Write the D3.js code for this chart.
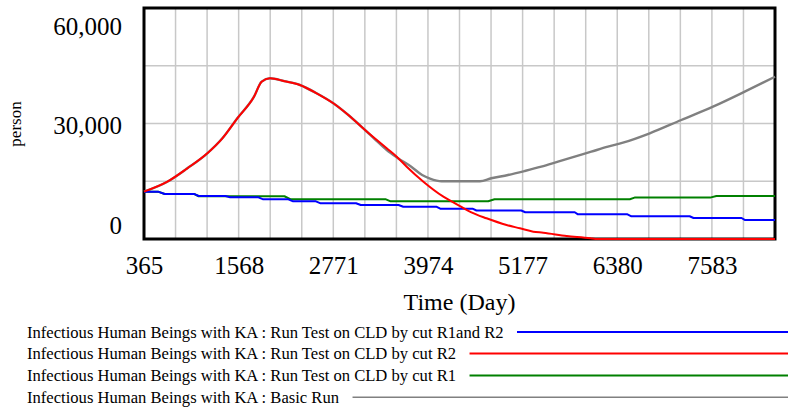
<!DOCTYPE html>
<html>
<head>
<meta charset="utf-8">
<script src="https://cdn.jsdelivr.net/npm/d3@7"></script>
<style>
  body { margin: 0; background: #fff; }
  svg { display: block; }
  svg text { font-family: "Liberation Serif", "Tinos", "Nimbus Roman", "Times", "DejaVu Serif", serif; }
</style>
</head>
<body>
<div id="chart"></div>
<script>
// axis ticks
const timeTicks = [365, 1568, 2771, 3974, 5177, 6380, 7583];
const valueTicks = [0, 30000, 60000];

// legend labels
const seriesNames = [
  "Infectious Human Beings with KA : Run Test on CLD by cut R1and R2",
  "Infectious Human Beings with KA : Run Test on CLD by cut R2",
  "Infectious Human Beings with KA : Run Test on CLD by cut R1",
  "Infectious Human Beings with KA : Basic Run"
];
const seriesColors = ["#0000ff", "#ff0000", "#008000", "#808080"];

// cut R1 and R2 (blue)
const blueTime = [365, 543, 628, 1000, 1060, 1400, 1460, 1820, 1880, 2200, 2260, 2550, 2610, 3060, 3120, 3600, 3660, 4080, 4130, 4540, 4590, 5160, 5210, 5840, 5880, 6510, 6560, 7300, 7350, 7960, 8000, 8385];
const blueValue = [12300, 12300, 11700, 11700, 11170, 11170, 10830, 10830, 10310, 10310, 9790, 9790, 9270, 9270, 8830, 8830, 8390, 8390, 7870, 7870, 7400, 7400, 6950, 6950, 6415, 6415, 5900, 5900, 5450, 5450, 4950, 4950];

// cut R2 (red)
const redTime = [365, 662, 916, 1170, 1361, 1551, 1763, 1860, 1966, 2150, 2347, 2559, 2771, 2962, 3174, 3450, 3577, 3704, 3916, 4170, 4381, 4519, 4719, 4973, 5143, 5312, 5440, 5737, 6040, 6100, 8385];
const redValue = [12300, 14880, 18360, 22260, 26150, 31350, 36960, 40860, 41740, 41000, 40000, 37840, 35250, 32200, 28310, 23560, 21380, 18780, 14880, 10990, 8570, 7000, 5375, 3640, 2780, 1900, 1640, 780, 200, 0, 0];

// cut R1 (green)
const greenTime = [365, 543, 628, 1000, 1060, 2150, 2230, 3440, 3500, 4740, 4820, 6540, 6600, 7560, 7640, 8385];
const greenValue = [12300, 12300, 11700, 11700, 11100, 11100, 10310, 10310, 9790, 9790, 10310, 10310, 10750, 10750, 11170, 11170];

// basic run (gray)
const grayTime = [365, 662, 916, 1170, 1361, 1551, 1763, 1860, 1966, 2150, 2347, 2559, 2771, 2962, 3174, 3300, 3450, 3593, 3762, 3900, 4000, 4147, 4635, 4779, 4991, 5204, 5415, 5627, 5839, 6050, 6262, 6453, 6793, 7194, 7597, 8000, 8385];
const grayValue = [12300, 14880, 18360, 22260, 26150, 31350, 36960, 40860, 41740, 41000, 40000, 37840, 35250, 32200, 28310, 25900, 23100, 21000, 18780, 16620, 15700, 15000, 15000, 15770, 16620, 17660, 18780, 20080, 21380, 22675, 23975, 25010, 27450, 30910, 34360, 38260, 42155];

function makeSeries(times, values) {
  return times.map((t, i) => ({ t: t, v: values[i] }));
}

function drawChart() {
  const W = 790, H = 411;
  const plot = { left: 144, right: 775, top: 8, bottom: 239 };

  const svg = d3.select("#chart").append("svg")
    .attr("width", W)
    .attr("height", H);

  const x = d3.scaleLinear().domain([365, 8385]).range([plot.left, plot.right]);
  const y = d3.scaleLinear().domain([0, 60000]).range([plot.bottom, plot.top]);

  // grid: 20 time divisions, 4 value divisions
  const xGrid = d3.range(1, 20).map(i => 365 + i * 401);
  const yGrid = [15000, 30000, 45000];

  svg.append("g").selectAll("line")
    .data(xGrid)
    .enter().append("line")
    .attr("x1", d => x(d)).attr("x2", d => x(d))
    .attr("y1", plot.top).attr("y2", plot.bottom)
    .attr("stroke", "#c8c8c8")
    .attr("stroke-width", 1.5);

  svg.append("g").selectAll("line")
    .data(yGrid)
    .enter().append("line")
    .attr("x1", plot.left).attr("x2", plot.right)
    .attr("y1", d => y(d)).attr("y2", d => y(d))
    .attr("stroke", "#c8c8c8")
    .attr("stroke-width", 1.5);

  // frame
  svg.append("rect")
    .attr("x", plot.left).attr("y", plot.top)
    .attr("width", plot.right - plot.left)
    .attr("height", plot.bottom - plot.top)
    .attr("fill", "none")
    .attr("stroke", "#000")
    .attr("stroke-width", 3);

  // lines
  const straight = d3.line().x(d => x(d.t)).y(d => y(d.v));
  const smooth = d3.line().x(d => x(d.t)).y(d => y(d.v)).curve(d3.curveMonotoneX);
  const series = [
    { data: makeSeries(grayTime, grayValue), color: seriesColors[3], w: 2.4, gen: smooth },
    { data: makeSeries(greenTime, greenValue), color: seriesColors[2], w: 2, gen: straight },
    { data: makeSeries(blueTime, blueValue), color: seriesColors[0], w: 2, gen: straight },
    { data: makeSeries(redTime, redValue), color: seriesColors[1], w: 2, gen: smooth }
  ];
  svg.append("g").selectAll("path")
    .data(series)
    .enter().append("path")
    .attr("d", d => d.gen(d.data))
    .attr("fill", "none")
    .attr("stroke", d => d.color)
    .attr("stroke-width", d => d.w)
    .attr("stroke-linejoin", "round");

  // x axis labels
  const xAxis = svg.append("g")
    .attr("transform", `translate(0,${plot.bottom})`)
    .call(d3.axisBottom(x).tickValues(timeTicks).tickFormat(d3.format("d")).tickSize(0).tickPadding(17));
  xAxis.attr("font-family", null);
  xAxis.select(".domain").remove();
  xAxis.selectAll("text")
    .attr("font-size", 25)
    .attr("fill", "#000");

  // y axis labels (Vensim pulls the end labels inside the frame)
  const yAxis = svg.append("g")
    .attr("transform", `translate(122,0)`)
    .call(d3.axisLeft(y).tickValues(valueTicks).tickFormat(d3.format(",")).tickSize(0).tickPadding(0));
  yAxis.attr("font-family", null);
  yAxis.select(".domain").remove();
  yAxis.selectAll("text")
    .attr("font-size", 25)
    .attr("fill", "#000")
    .attr("y", d => d === 60000 ? 18.5 : (d === 0 ? -14 : 1.5));

  // axis titles
  svg.append("text")
    .attr("x", (plot.left + plot.right) / 2)
    .attr("y", 310)
    .attr("text-anchor", "middle")
    .attr("font-size", 24)
    .text("Time (Day)");

  svg.append("text")
    .attr("transform", "translate(20.5,124) rotate(-90)")
    .attr("text-anchor", "middle")
    .attr("font-size", 17)
    .text("person");

  // legend
  const legendBase = [337.5, 359, 381, 402.7];
  const legend = svg.append("g");
  seriesNames.forEach((name, i) => {
    const t = legend.append("text")
      .attr("x", 27)
      .attr("y", legendBase[i])
      .attr("font-size", 16.6)
      .attr("fill", "#000")
      .text(name);
    const end = 27 + t.node().getComputedTextLength();
    legend.append("line")
      .attr("x1", end + 13.5).attr("x2", 788)
      .attr("y1", legendBase[i] - 5.5).attr("y2", legendBase[i] - 5.5)
      .attr("stroke", seriesColors[i])
      .attr("stroke-width", i === 3 ? 1.6 : 2);
  });
}

drawChart();
</script>
</body>
</html>
